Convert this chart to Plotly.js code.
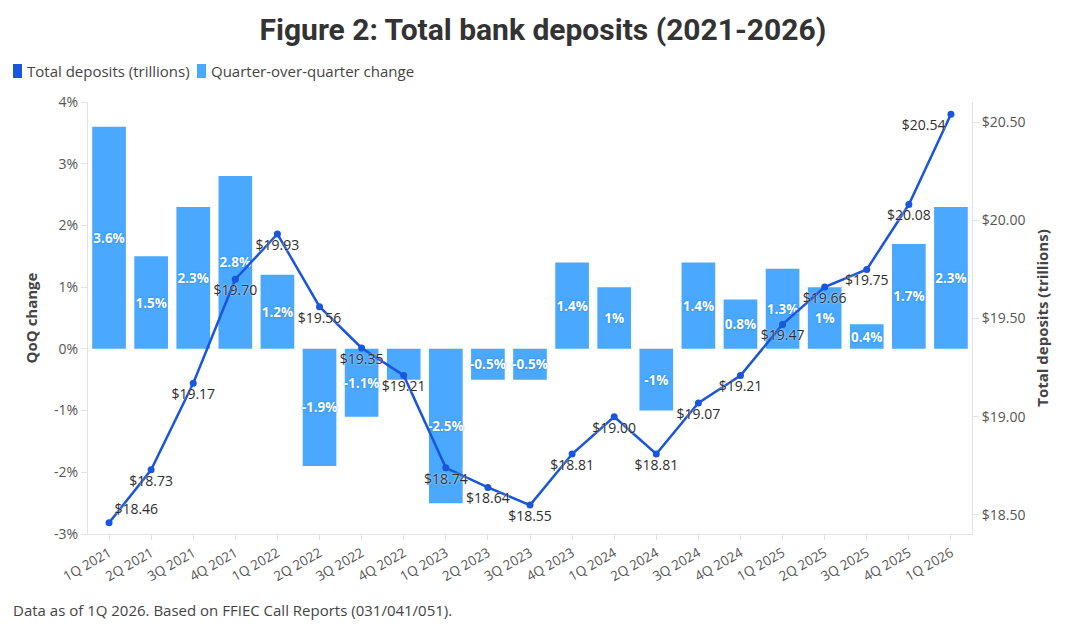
<!DOCTYPE html>
<html>
<head>
<meta charset="utf-8">
<script src="https://cdn.plot.ly/plotly-3.0.1.min.js"></script>
<style>
html,body{margin:0;padding:0;background:#fff;}
#chart{width:1075px;height:631px;}
</style>
</head>
<body>
<div id="chart"></div>
<script>
const quarters = ["1Q 2021","2Q 2021","3Q 2021","4Q 2021","1Q 2022","2Q 2022","3Q 2022","4Q 2022","1Q 2023","2Q 2023","3Q 2023","4Q 2023","1Q 2024","2Q 2024","3Q 2024","4Q 2024","1Q 2025","2Q 2025","3Q 2025","4Q 2025","1Q 2026"];
const qoqChange = [3.6,1.5,2.3,2.8,1.2,-1.9,-1.1,-0.5,-2.5,-0.5,-0.5,1.4,1,-1,1.4,0.8,1.3,1,0.4,1.7,2.3];
const totalDeposits = [18.46,18.73,19.17,19.70,19.93,19.56,19.35,19.21,18.74,18.64,18.55,18.81,19.00,18.81,19.07,19.21,19.47,19.66,19.75,20.08,20.54];
const hiddenBarLabels = ["4Q 2022"]; // label hidden in the reference (collides with line label)
const leftTicks = [-3,-2,-1,0,1,2,3,4];
const rightTicks = [18.5,19.0,19.5,20.0,20.5];
const legendNames = ["Total deposits (trillions)", "Quarter-over-quarter change"];

const FONT = "'Open Sans', 'Noto Sans', sans-serif";
const TITLE_FONT = "Roboto, 'Noto Sans', sans-serif";
const LINE_COLOR = "#1a56db";
const BAR_COLOR = "#4aa8ff";

// plot area in pixels: left 88, right 972, top 102, bottom 534
const PL = 88, PW = 884, PT = 102, PH = 432;
const px2x = px => (px - PL) / PW;
const py2y = py => (PT + PH - py) / PH;

const barTrace = {
  type: "bar",
  name: legendNames[1],
  x: quarters,
  y: qoqChange,
  yaxis: "y",
  marker: {color: BAR_COLOR},
  text: qoqChange.map((v, i) => hiddenBarLabels.includes(quarters[i]) ? "" : v + "%"),
  textposition: "inside",
  insidetextanchor: "middle",
  textangle: 0,
  constraintext: "none",
  textfont: {family: FONT, size: 13.5, color: "#ffffff", weight: "bold", shadow: "0px 0px 2px #1e7fe0"},
  hoverinfo: "skip",
  showlegend: false
};

const positions = totalDeposits.map((v, i) => i === 0 ? "top right" : (i === totalDeposits.length - 1 ? "bottom left" : "bottom center"));

const lineTrace = {
  type: "scatter",
  mode: "lines+markers+text",
  name: legendNames[0],
  x: quarters,
  y: totalDeposits,
  yaxis: "y2",
  line: {color: LINE_COLOR, width: 2.5},
  marker: {color: LINE_COLOR, size: 7},
  text: totalDeposits.map(v => "$" + v.toFixed(2)),
  textposition: positions,
  textfont: {family: FONT, size: 14, color: "#2e2e2e", shadow: "0px 0px 2px #ffffff"},
  showlegend: false,
  cliponaxis: false
};

const legendShapes = [
  {type: "rect", xref: "paper", yref: "paper", x0: px2x(13), x1: px2x(22), y0: py2y(78), y1: py2y(64), fillcolor: LINE_COLOR, line: {width: 0}, layer: "above"},
  {type: "rect", xref: "paper", yref: "paper", x0: px2x(197), x1: px2x(206), y0: py2y(78), y1: py2y(64), fillcolor: BAR_COLOR, line: {width: 0}, layer: "above"}
];

const legendAnnotations = [
  {text: legendNames[0], xref: "paper", yref: "paper", x: px2x(25), xanchor: "left", y: py2y(71), yanchor: "middle", showarrow: false, font: {family: FONT, size: 15, color: "#444444"}},
  {text: legendNames[1], xref: "paper", yref: "paper", x: px2x(209), xanchor: "left", y: py2y(71), yanchor: "middle", showarrow: false, font: {family: FONT, size: 15, color: "#444444"}}
];

const layout = {
  width: 1075,
  height: 631,
  paper_bgcolor: "#ffffff",
  plot_bgcolor: "#ffffff",
  font: {family: FONT, color: "#555555", size: 13},
  margin: {l: 88, r: 103, t: 102, b: 97},
  title: {
    text: "<b>Figure 2: Total bank deposits (2021-2026)</b>",
    font: {family: TITLE_FONT, size: 30, color: "#333333"},
    x: 0.505, xanchor: "center",
    y: 0.953, yanchor: "middle"
  },
  showlegend: false,
  bargap: 0.2,
  xaxis: {
    type: "category",
    range: [-0.5, 20.5],
    tickangle: -30,
    ticks: "outside",
    ticklen: 5,
    tickcolor: "#e3e3e3",
    showline: true,
    linecolor: "#e3e3e3",
    showgrid: false,
    tickfont: {family: FONT, size: 13.5, color: "#555555"},
    fixedrange: true
  },
  yaxis: {
    range: [-3, 4],
    tickvals: leftTicks,
    ticktext: leftTicks.map(v => v + "%"),
    ticks: "outside",
    ticklen: 6,
    tickcolor: "#e3e3e3",
    showline: true,
    linecolor: "#e3e3e3",
    showgrid: false,
    zeroline: false,
    tickfont: {family: FONT, size: 14, color: "#555555"},
    title: {text: "<b>QoQ change</b>", font: {family: FONT, size: 15, color: "#444444"}, standoff: 12}
  },
  yaxis2: {
    overlaying: "y",
    side: "right",
    range: [18.403, 20.602],
    tickvals: rightTicks,
    ticktext: rightTicks.map(v => "$" + v.toFixed(2)),
    ticks: "outside",
    ticklen: 6,
    tickcolor: "#e3e3e3",
    showline: true,
    linecolor: "#e3e3e3",
    showgrid: false,
    zeroline: false,
    tickfont: {family: FONT, size: 14, color: "#555555"},
    title: {text: "<b>Total deposits (trillions)</b>", font: {family: FONT, size: 15, color: "#444444"}, standoff: 12}
  },
  shapes: legendShapes,
  annotations: legendAnnotations.concat([{
    text: "Data as of 1Q 2026. Based on FFIEC Call Reports (031/041/051).",
    xref: "paper", yref: "paper",
    x: px2x(11), xanchor: "left",
    y: py2y(610), yanchor: "middle",
    showarrow: false,
    font: {family: FONT, size: 15, color: "#444444"}
  }])
};

Plotly.newPlot("chart", [barTrace, lineTrace], layout, {displayModeBar: false, staticPlot: true});
</script>
</body>
</html>
